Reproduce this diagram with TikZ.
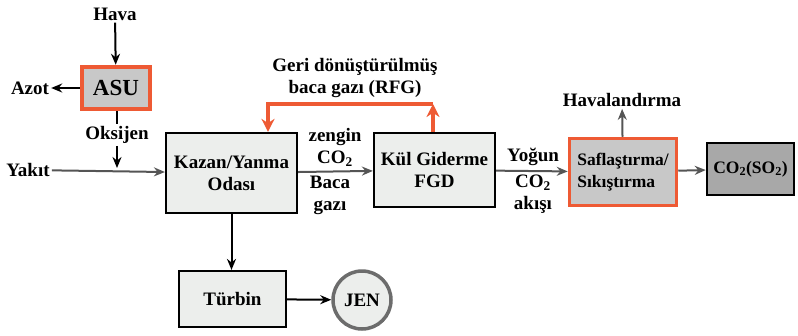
\documentclass[tikz,border=0pt]{standalone}
\usepackage{fontspec}
\setmainfont{Liberation Serif}
\usetikzlibrary{arrows.meta}

\definecolor{turuncu}{RGB}{238,90,52}
\definecolor{acikgri}{RGB}{236,238,236}
\definecolor{ortagri}{RGB}{200,200,200}
\definecolor{koyugri}{RGB}{168,168,168}
\definecolor{okgri}{RGB}{85,85,85}

\tikzset{
  yazi/.style={font=\fontsize{19}{22}\selectfont\bfseries, align=center, inner sep=2pt},
  kutu/.style={yazi, draw=black, line width=2.2pt, fill=acikgri},
  ok/.style={line width=2pt, -{Stealth[length=11pt,width=9pt]}},
  griok/.style={ok, draw=okgri},
  rfgok/.style={line width=4pt, draw=turuncu, -{Stealth[length=13pt,width=13pt]}}
}

\begin{document}
\begin{tikzpicture}[x=1pt,y=-1pt]
        \useasboundingbox (0,0) rectangle (798,335);
        % boxes
        \node[kutu, draw=turuncu, line width=4.5pt, fill=ortagri, minimum width=68pt, minimum height=42pt,
              font=\fontsize{23}{26}\selectfont\bfseries] (asu) at (116,88) {ASU};
        \node[kutu, minimum width=131pt, minimum height=80pt] (kazan) at (231.5,173) {Kazan/Yanma\\Odası};
        \node[kutu, minimum width=121pt, minimum height=74pt] (kul) at (434.5,170) {Kül Giderme\\FGD};
        \node[kutu, draw=turuncu, line width=3.5pt, fill=ortagri, minimum width=107pt, minimum height=67pt,
              align=left, font=\fontsize{17.5}{22}\selectfont\bfseries] (saf) at (623,172) {Saflaştırma/\\Sıkıştırma};
        \node[kutu, fill=koyugri, line width=2.5pt, minimum width=87pt, minimum height=52pt,
              font=\fontsize{17.5}{22}\selectfont\bfseries] (co2) at (750.5,169) {CO\textsubscript{2}(SO\textsubscript{2})};
        \node[kutu, minimum width=107pt, minimum height=56pt] (turbin) at (232.5,299) {Türbin};
        \node[kutu, circle, draw=gray!85!black, line width=3.5pt, fill=acikgri, minimum size=58pt] (jen) at (362,300) {JEN};
        % labels
        \node[yazi] (hava) at (115,14) {Hava};
        \node[yazi] (azot) at (30,88) {Azot};
        \node[yazi] (oksijen) at (117,135) {Oksijen};
        \node[yazi] (yakit) at (28,170) {Yakıt};
        \node[yazi] (zengin) at (335,147) {zengin\\CO\textsubscript{2}};
        \node[yazi] (baca) at (330,195) {Baca\\gazı};
        \node[yazi] (rfg) at (355,78) {Geri dönüştürülmüş\\baca gazı (RFG)};
        \node[yazi] (yogun) at (533,157) {Yoğun};
        \node[yazi] (akis) at (533,194) {CO\textsubscript{2}\\akışı};
        \node[yazi] (havalandirma) at (622,100) {Havalandırma};
        \coordinate (oks) at (117,168);
        \coordinate (rfgsag) at (433,104);
        \coordinate (rfgsol) at (268,104);
        % air and fuel
        \draw[ok] (hava) -- (asu);
        \draw[ok] (asu) -- (azot);
        \draw[line width=2pt] (asu.south -| oksijen) -- (oksijen.north);
        \draw[ok] (oksijen) -- (oks);
        \draw[griok] (yakit) -- (kazan);
        % main line
        \draw[griok] (kazan) -- (kul);
        \draw[griok] (kul) -- (saf);
        \draw[griok] (saf) -- (co2);
        \draw[griok] (saf) -- (havalandirma);
        \draw[ok] (kazan.south) -- (kazan.south |- turbin.north);
        \draw[ok] (turbin) -- (jen);
        % recycled flue gas
        \draw[rfgok] (kul.north -| rfgsag) -- (rfgsag);
        \draw[rfgok] (rfgsag) -- (rfgsol) -- (rfgsol |- kazan.north);
    \end{tikzpicture}
\end{document}
